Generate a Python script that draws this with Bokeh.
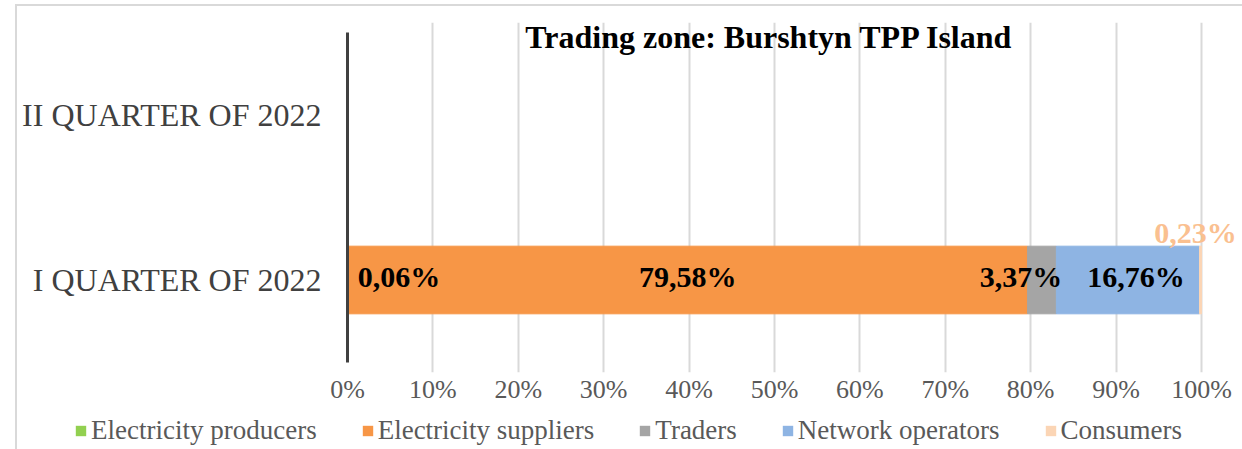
from bokeh.plotting import figure
from bokeh.layouts import column
from bokeh.models import (ColumnDataSource, FactorRange, Range1d, Legend, LegendItem,
                          PrintfTickFormatter, FixedTicker, Plot)
from bokeh.transform import dodge
from bokeh.embed import file_html
from bokeh.resources import INLINE
from bokeh.core.properties import value

# ---------------- data ----------------
chart_title = "Trading zone: Burshtyn TPP Island"
quarters = ["I QUARTER OF 2022", "II QUARTER OF 2022"]
series = ["Electricity producers", "Electricity suppliers", "Traders",
          "Network operators", "Consumers"]
# shares (%) for I QUARTER OF 2022 (II quarter has no data)
producers = [0.06]
suppliers = [79.58]
traders = [3.37]
network_operators = [16.76]
consumers = [0.23]
x_ticks = [0, 10, 20, 30, 40, 50, 60, 70, 80, 90, 100]

colors = ["#92D050", "#F79646", "#A5A5A5", "#8EB4E3", "#FBD5B5"]
FONT = "Liberation Serif"

src = ColumnDataSource(dict(
    q=[quarters[0]],
    **{series[0]: producers, series[1]: suppliers, series[2]: traders,
       series[3]: network_operators, series[4]: consumers}))

can_unalign = "frame_align" in Plot.properties()

p = figure(width=1242, height=415, output_backend="svg", toolbar_location=None,
           y_range=FactorRange(factors=quarters, range_padding=0.0606),
           x_range=Range1d(0, 104.57),
           min_border_left=347, min_border_right=2, min_border_top=22,
           min_border_bottom=43)
p.outline_line_color = None
p.background_fill_alpha = 0
p.border_fill_alpha = 0
if can_unalign:
    p.frame_align = False

renderers = p.hbar_stack(series, y="q", height=0.41, color=colors, source=src)

# ---- axes ----
p.xaxis.ticker = FixedTicker(ticks=x_ticks)
p.xaxis.formatter = PrintfTickFormatter(format="%d%%")
p.xaxis.axis_line_color = None
p.xaxis.major_tick_line_color = None
p.xaxis.minor_tick_line_color = None
p.xaxis.major_label_standoff = -4
p.xaxis.major_label_text_font = FONT
p.xaxis.major_label_text_font_size = "26px"
p.xaxis.major_label_text_color = "#595959"

p.yaxis.bounds = (0, 2)
p.yaxis.axis_line_color = "#404040"
p.yaxis.axis_line_width = 3
p.yaxis.major_tick_line_color = None
p.yaxis.minor_tick_line_color = None
p.yaxis.major_label_standoff = 20
p.yaxis.major_label_text_font = FONT
p.yaxis.major_label_text_font_size = "32px"
p.yaxis.major_label_text_color = "#404040"

p.xgrid.grid_line_color = "#D9D9D9"
p.xgrid.grid_line_width = 2
p.ygrid.grid_line_color = None

# ---- value labels ----
vals = producers + suppliers + traders + network_operators + consumers
cum = []
s = 0.0
for v in vals:
    cum.append(s + v / 2.0)
    s += v
texts = [f"{v:.2f}%".replace(".", ",") for v in vals]

inside = ColumnDataSource(dict(
    x=cum[:4], y=[quarters[0]] * 4, t=texts[:4],
    align=["left", "center", "center", "center"],
    xo=[10, 0, -21, 8]))
p.text(x="x", y=dodge("y", 0.02, range=p.y_range), text="t", source=inside,
       text_align="align", x_offset="xo",
       text_baseline="middle", text_font=value(FONT), text_font_style="bold",
       text_font_size="30px", text_color="black")

outside = ColumnDataSource(dict(x=cum[4:], y=[quarters[0]], t=texts[4:]))
p.text(x="x", y=dodge("y", 0.29, range=p.y_range), text="t", source=outside,
       text_align="center", x_offset=-5, text_baseline="middle",
       text_font=value(FONT), text_font_style="bold", text_font_size="30px",
       text_color="#FAC090")

# ---- title ----
tsrc = ColumnDataSource(dict(x=[50], y=[quarters[1]], t=[chart_title]))
p.text(x="x", y=dodge("y", 0.47, range=p.y_range), text="t", source=tsrc,
       text_align="center", text_baseline="middle", x_offset=-5,
       text_font=value(FONT), text_font_style="bold", text_font_size="32px",
       text_color="black")

# ---- legend strip (separate figure below the chart; its bars have zero height) ----
pl = figure(width=1242, height=34, output_backend="svg", toolbar_location=None,
            x_axis_location=None, y_axis_location=None,
            y_range=FactorRange(factors=quarters), x_range=Range1d(0, 100),
            min_border_left=0, min_border_right=0, min_border_top=0,
            min_border_bottom=0)
pl.outline_line_color = None
pl.background_fill_alpha = 0
pl.border_fill_alpha = 0
pl.grid.visible = False
if can_unalign:
    pl.frame_align = False
leg_renderers = pl.hbar_stack(series, y="q", height=0, fill_color=colors,
                              line_color=None, source=src)
legend = Legend(items=[LegendItem(label=s_, renderers=[r]) for s_, r in zip(series, leg_renderers)],
                orientation="horizontal", location=((74 if can_unalign else -273), 3),
                label_text_font=FONT, label_text_font_size="27px",
                label_text_color="#595959", glyph_width=13, glyph_height=13,
                label_standoff=4, spacing=44, padding=0, margin=0,
                border_line_color=None, background_fill_alpha=0)
pl.add_layout(legend, "center")

layout = column(p, pl, spacing=0, styles={
    "background": "linear-gradient(#D9D9D9,#D9D9D9) 15px 4px / 2px calc(100% - 4px) no-repeat, "
                  "linear-gradient(#D9D9D9,#D9D9D9) 15px 4px / calc(100% - 15px) 2px no-repeat, white"
})

open("out.html", "w").write(file_html(layout, INLINE))
